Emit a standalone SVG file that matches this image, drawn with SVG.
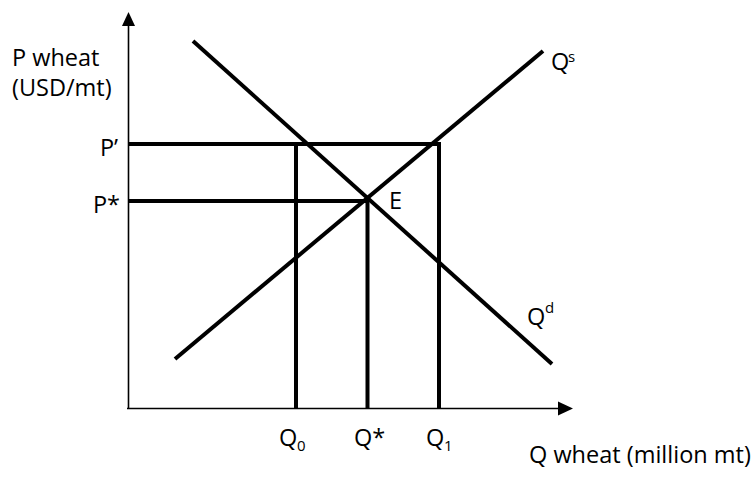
<svg xmlns="http://www.w3.org/2000/svg" width="755" height="479" viewBox="0 0 755 479">
<style>
text{font-family:"Open Sans","Liberation Sans",sans-serif;font-size:23.5px;fill:#000}
.sub{font-size:15px}
.axis{stroke:#000;stroke-width:1.6;fill:none}
.thick{stroke:#000;stroke-width:4;fill:none}
</style>
<rect width="755" height="479" fill="#fff"/>
<g id="axes">
<line class="axis" x1="128.5" y1="24" x2="128.5" y2="408"/>
<polygon points="122,26 135,26 128.5,12" fill="#000"/>
<line class="axis" x1="127" y1="408.5" x2="560" y2="408.5"/>
<polygon points="558,401.5 558,415.5 573,408.5" fill="#000"/>
</g>
<g id="connectors">
<line class="thick" x1="129" y1="144" x2="441" y2="144"/>
<line class="thick" x1="129" y1="201" x2="369" y2="201"/>
<line class="thick" x1="296" y1="142" x2="296" y2="408"/>
<line class="thick" x1="367.5" y1="199" x2="367.5" y2="408"/>
<line class="thick" x1="439" y1="142" x2="439" y2="408"/>
</g>
<g id="supply"><line class="thick" x1="175" y1="359" x2="543" y2="51"/></g>
<g id="demand"><line class="thick" x1="193" y1="41" x2="552" y2="364"/></g>
<g id="labels">
<text x="12" y="66">P wheat</text>
<text x="12" y="96">(USD/mt)</text>
<text x="118" y="156" text-anchor="end">P’</text>
<text x="120" y="213" text-anchor="end">P*</text>
<text x="389" y="209">E</text>
<text x="551" y="70">Q</text><text class="sub" x="568" y="62">s</text>
<text x="527" y="325">Q</text><text class="sub" x="545" y="313">d</text>
<text x="279" y="446">Q</text><text class="sub" x="297" y="451">0</text>
<text x="354" y="446">Q*</text>
<text x="426" y="446">Q</text><text class="sub" x="444" y="451">1</text>
<text x="529" y="463">Q wheat (million mt)</text>
</g>
</svg>
